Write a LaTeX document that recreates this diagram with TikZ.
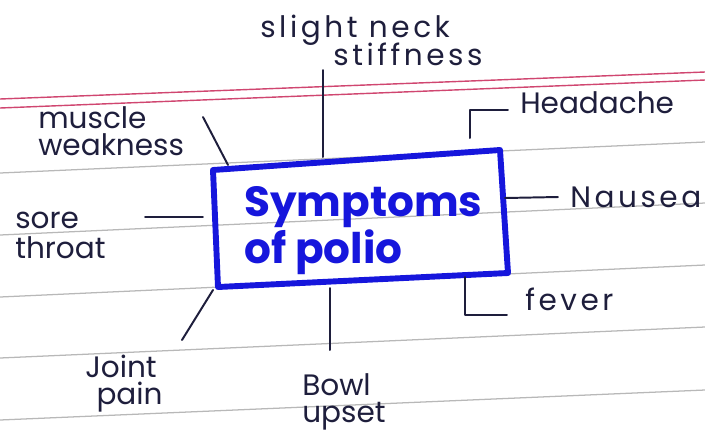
\documentclass[tikz,border=0pt]{standalone}
\usepackage{fontspec}
\setmainfont{Poppins}
\usepackage{tikz}

\definecolor{ink}{HTML}{1E1E3C}
\definecolor{penblue}{HTML}{1616DC}
\definecolor{rulegray}{HTML}{B8B8B8}
\definecolor{marginred}{HTML}{D04670}

\begin{document}
\begin{tikzpicture}[x=0.025cm, y=-0.025cm,
		lbl/.style={anchor=base west, inner sep=0pt, align=left, text=ink, font=\fontsize{21}{21}\selectfont},
		wide/.style={font=\fontsize{21}{21}\selectfont\addfontfeatures{LetterSpace=12}},
		title/.style={anchor=base west, inner sep=0pt, align=left, text=penblue, font=\fontsize{30}{28}\selectfont\bfseries},
		stroke/.style={line width=1.4pt, ink, line cap=round, line join=round},
		boxline/.style={line width=4.2pt, penblue, line join=round},
		ruled/.style={line width=0.9pt, rulegray},
		redline/.style={line width=1pt, marginred}]
		
		\useasboundingbox (0,0) rectangle (705,437);
		
		% Liniertes Papier
		\foreach \l/\r in {173/142, 235/203, 297/265, 358/327, 420/390}
			\draw[ruled] (0,\l) -- (705,\r);
		\draw[redline] (0,99) -- (705,72);
		\draw[redline] (0,108) -- (705,80);
		
		% Kasten in der Mitte
		\coordinate (bTL) at (213,170);
		\coordinate (bTR) at (500,150);
		\coordinate (bBR) at (508,273);
		\coordinate (bBL) at (218,287);
		\draw[boxline] (bTL) -- (bTR) -- (bBR) -- (bBL) -- cycle;
		\node[title] (polio) at (244,263) {Symptoms\\of polio};
		
		% Beschriftungen (Punkt = Grundlinie der letzten Zeile)
		\node[lbl, wide] (neck) at (260,65) {slight neck\\[-3pt]\hspace{52pt}stiffness};
		\node[lbl] (muscle) at (38,155) {muscle\\[-2pt]weakness};
		\node[lbl] (head) at (520,113) {Headache};
		\node[lbl, wide] (nausea) at (570,207) {Nausea};
		\node[lbl] (throat) at (15,258) {sore\\throat};
		\node[lbl, wide] (fever) at (525,310) {fever};
		\node[lbl] (joint) at (85,404) {Joint\\[-2pt]\hspace{8pt}pain};
		\node[lbl] (bowl) at (302,422) {Bowl\\[-2pt]upset};
		
		% Striche zum Kasten
		\coordinate (neckA) at (323,157);
		\coordinate (neckB) at (323,70);
		\draw[stroke] (neckA) -- (neckB);
		\coordinate (muscleA) at (228,165);
		\coordinate (muscleB) at (203,117);
		\draw[stroke] (muscleA) -- (muscleB);
		\coordinate (headA) at (470,138);
		\coordinate (headB) at (508,110);
		\draw[stroke] (headA) |- (headB);
		\coordinate (nauseaA) at (505,198);
		\coordinate (nauseaB) at (558,197);
		\draw[stroke] (nauseaA) -- (nauseaB);
		\coordinate (throatA) at (203,217);
		\coordinate (throatB) at (145,217);
		\draw[stroke] (throatA) -- (throatB);
		\coordinate (feverA) at (465,277);
		\coordinate (feverB) at (507,315);
		\draw[stroke] (feverA) |- (feverB);
		\coordinate (jointA) at (213,290);
		\coordinate (jointB) at (182,340);
		\draw[stroke] (jointA) -- (jointB);
		\coordinate (bowlA) at (330,288);
		\coordinate (bowlB) at (330,350);
		\draw[stroke] (bowlA) -- (bowlB);
		
	\end{tikzpicture}
\end{document}
